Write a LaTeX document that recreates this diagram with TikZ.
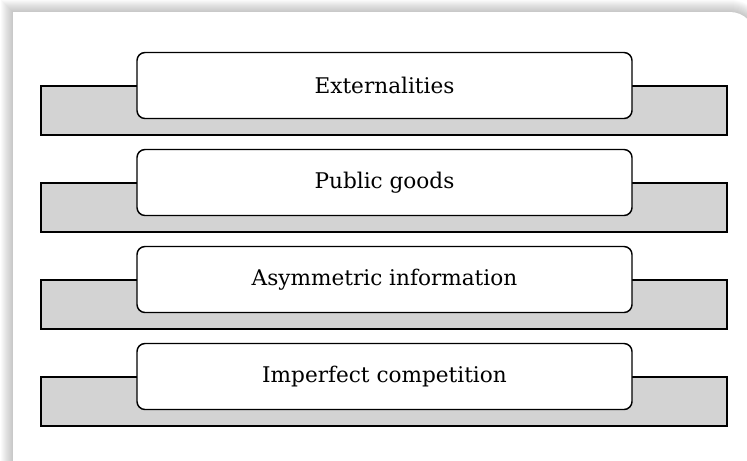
\documentclass[tikz,border=0pt]{standalone}
\usepackage{fontspec}
\setmainfont{DejaVu Serif}
\begin{document}
\begin{tikzpicture}[x=0.75pt, y=-0.75pt,
  barbox/.style={draw=black, fill={rgb,255:red,211;green,211;blue,211}, line width=1.1pt,
    minimum width=514.5pt, minimum height=36.75pt, inner sep=0pt},
  itembox/.style={draw=black, fill=white, line width=1.1pt, rounded corners=6pt,
    minimum width=371.25pt, minimum height=49.5pt, inner sep=0pt,
    font=\fontsize{16.2pt}{19pt}\selectfont}]
\useasboundingbox (0,0) rectangle (747,461);
% shadow of the frame
\foreach \i in {1,...,12}{
  \fill[black, opacity=0.02]
    (13-\i,540) -- (13-\i,12-\i) -- (730,12-\i) arc[start angle=90, end angle=0, radius=(25+\i)*0.75pt] -- (755+\i,540) -- cycle;
}
% frame
\fill[white] (13,540) -- (13,12) -- (730,12) arc[start angle=90, end angle=0, radius=18.75pt] -- (755,540) -- cycle;
% bars and boxes
\foreach \k/\t in {0/Externalities, 1/Public goods, 2/Asymmetric information, 3/Imperfect competition}{
  \node[barbox] (bar\k) at (384,110.5+97*\k) {};
  \node[itembox] (box\k) at (384.5,85.5+97*\k) {\t};
}
\end{tikzpicture}
\end{document}
